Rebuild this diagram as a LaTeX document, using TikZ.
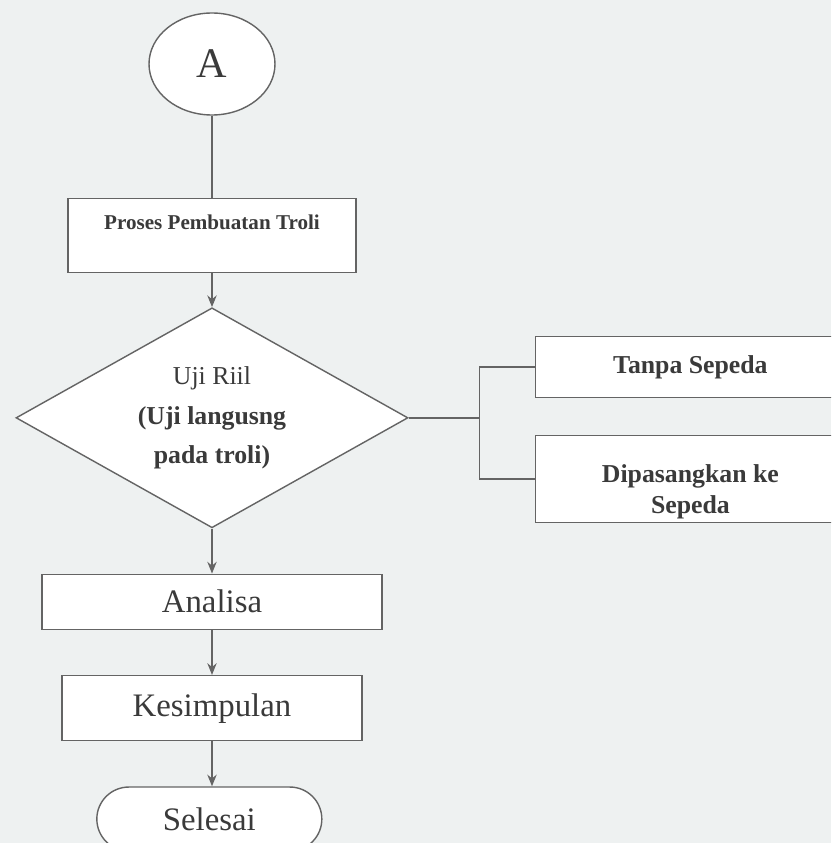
\documentclass[tikz,border=0pt]{standalone}
\usepackage{fontspec}
\setmainfont{Liberation Serif}
\usetikzlibrary{arrows.meta, positioning, shapes.geometric, shapes.misc}
\definecolor{linegray}{RGB}{100,100,100}
\definecolor{inkgray}{RGB}{58,58,58}
\definecolor{paper}{RGB}{238,241,241}

\begin{document}
\begin{tikzpicture}[
    node distance=1.35cm,
    every node/.style={text=inkgray},
    box/.style={
        rectangle, draw=linegray, line width=1.2pt, fill=white,
        align=center, inner sep=0pt
    },
    decision/.style={
        diamond, draw=linegray, line width=1.2pt, fill=white,
        aspect=1.78, minimum width=11.76cm, minimum height=6.6cm,
        inner sep=0pt, align=center, font=\fontsize{22}{34}\selectfont
    },
    terminal/.style={
        rounded rectangle, draw=linegray, line width=1.2pt, fill=white,
        inner sep=0pt
    },
    connector/.style={
        ellipse, draw=linegray, line width=1.2pt, fill=white,
        minimum width=3.78cm, minimum height=3.06cm
    },
    line/.style={draw=linegray, line width=1.2pt},
    arrow/.style={line, -{Stealth[length=10pt, width=8pt]}},
]

\fill[paper] (-6.36,1.92) rectangle (18.57,-23.37);
\clip (-6.36,1.92) rectangle (18.57,-23.37);

\node[connector, font=\fontsize{36}{40}\selectfont] (a) at (0,0) {A};

\node[box, below=2.46cm of a, minimum width=8.64cm,
      text height=0.93cm, text depth=1.29cm,
      font=\bfseries\fontsize{18}{22}\selectfont] (proses) {Proses Pembuatan Troli};

\node[decision, below=1.02cm of proses] (uji) {Uji Riil\\\textbf{(Uji langusng}\\\textbf{pada troli)}};

\node[box, right=3.78cm of uji, yshift=1.52cm, minimum width=9.3cm, minimum height=1.83cm,
      font=\bfseries\fontsize{22}{26}\selectfont] (tanpa) {Tanpa Sepeda};
\node[box, right=3.78cm of uji, yshift=-1.84cm, minimum width=9.3cm, minimum height=2.61cm,
      font=\bfseries\fontsize{22}{26}\selectfont] (pasang) {\rule{0pt}{1.3cm}Dipasangkan ke\\Sepeda};

\node[box, below=1.35cm of uji, minimum width=10.2cm, minimum height=1.65cm,
      font=\fontsize{28}{32}\selectfont] (analisa) {Analisa};
\node[box, below=of analisa, minimum width=9cm, minimum height=1.95cm,
      font=\fontsize{28}{32}\selectfont] (simpul) {Kesimpulan};
\node[terminal, below=of simpul, xshift=-0.08cm, minimum width=6.75cm, minimum height=1.92cm,
      font=\fontsize{28}{32}\selectfont] (selesai) {Selesai};

\draw[line] (a) -- (proses);
\draw[arrow] (proses) -- (uji);

\draw[line] (uji.east) -- ++(2.13cm,0) coordinate (cabang);
\draw[line] (tanpa.west) -| (cabang) |- (pasang.west);

\draw[arrow] (uji) -- (analisa);
\draw[arrow] (analisa) -- (simpul);
\draw[arrow] (simpul) -- (selesai.north -| simpul);

\end{tikzpicture}
\end{document}
